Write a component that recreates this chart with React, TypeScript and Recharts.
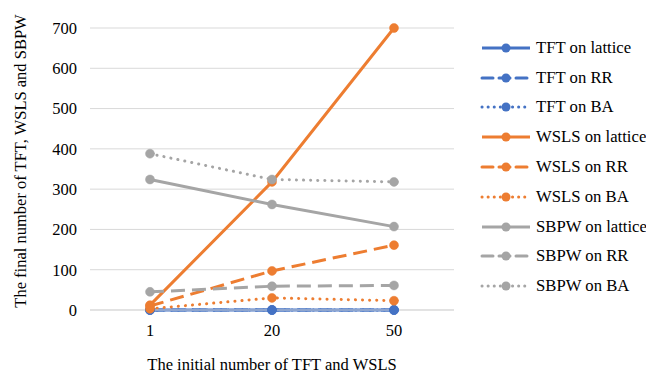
import React from "react";
import { LineChart, Line, XAxis, YAxis, CartesianGrid, Label } from "recharts";

const categories = ["1", "20", "50"];

const tftLattice = [0, 0, 0];
const tftRR = [0, 0, 0];
const tftBA = [0, 0, 0];
const wslsLattice = [12, 318, 700];
const wslsRR = [10, 97, 161];
const wslsBA = [3, 30, 23];
const sbpwLattice = [324, 262, 207];
const sbpwRR = [45, 59, 61];
const sbpwBA = [388, 324, 318];

const yTicks = [0, 100, 200, 300, 400, 500, 600, 700];

const BLUE = "#4472C4";
const ORANGE = "#ED7D31";
const GRAY = "#A5A5A5";
const FONT = "Liberation Serif";

type Style = "solid" | "dash" | "dot";

const seriesDefs: Array<{ key: string; name: string; color: string; style: Style; values: number[] }> = [
  { key: "tftLattice", name: "TFT on lattice", color: BLUE, style: "solid", values: tftLattice },
  { key: "tftRR", name: "TFT on RR", color: BLUE, style: "dash", values: tftRR },
  { key: "tftBA", name: "TFT on BA", color: BLUE, style: "dot", values: tftBA },
  { key: "wslsLattice", name: "WSLS on lattice", color: ORANGE, style: "solid", values: wslsLattice },
  { key: "wslsRR", name: "WSLS on RR", color: ORANGE, style: "dash", values: wslsRR },
  { key: "wslsBA", name: "WSLS on BA", color: ORANGE, style: "dot", values: wslsBA },
  { key: "sbpwLattice", name: "SBPW on lattice", color: GRAY, style: "solid", values: sbpwLattice },
  { key: "sbpwRR", name: "SBPW on RR", color: GRAY, style: "dash", values: sbpwRR },
  { key: "sbpwBA", name: "SBPW on BA", color: GRAY, style: "dot", values: sbpwBA },
];

const data = categories.map((c, i) => {
  const row: Record<string, string | number> = { x: c };
  seriesDefs.forEach((s) => {
    row[s.key] = s.values[i];
  });
  return row;
});

const dashFor = (style: Style) =>
  style === "dash" ? "14 7" : style === "dot" ? "0.1 7" : undefined;

const textStyle = { fill: "#000", fontSize: 16.5, fontFamily: FONT };

// legend sits to the right of the plot, one row per series
function LegendBox() {
  return (
    <div
      style={{
        position: "absolute",
        left: 480,
        top: 33,
        fontFamily: FONT,
        fontSize: 16.7,
        color: "#000",
      }}
    >
      {seriesDefs.map((s) => (
        <div key={s.key} style={{ display: "flex", alignItems: "center", height: 29.8 }}>
          <svg width={52} height={12} style={{ marginRight: 4 }}>
            <line
              x1={2}
              y1={6}
              x2={50}
              y2={6}
              stroke={s.color}
              strokeWidth={3}
              strokeDasharray={s.style === "dash" ? "11 6" : s.style === "dot" ? "0.1 6" : undefined}
              strokeLinecap={s.style === "solid" ? "butt" : "round"}
            />
            <circle cx={26} cy={6} r={4.5} fill={s.color} />
          </svg>
          <span style={{ whiteSpace: "nowrap", fontFamily: FONT }}>{s.name}</span>
        </div>
      ))}
    </div>
  );
}

export default function App() {
  return (
    <div
      style={{
        width: 646,
        height: 374,
        background: "#fff",
        position: "relative",
        overflow: "hidden",
        fontFamily: FONT,
      }}
    >
      <style>{`body{margin:0}`}</style>
      <LineChart
        width={646}
        height={374}
        data={data}
        margin={{ top: 28, right: 192, bottom: 0, left: 0 }}
        style={{ fontFamily: FONT }}
      >
        <CartesianGrid horizontal vertical={false} stroke="#D9D9D9" strokeWidth={1} />
        <XAxis
          dataKey="x"
          height={64}
          padding={{ left: 60, right: 60 }}
          axisLine={{ stroke: "#D9D9D9" }}
          tickLine={false}
          tickMargin={8}
          tick={textStyle}
        >
          <Label
            value="The initial number of TFT and WSLS"
            position="insideBottom"
            offset={4}
            style={textStyle}
          />
        </XAxis>
        <YAxis
          width={90}
          domain={[0, 700]}
          ticks={yTicks}
          axisLine={false}
          tickLine={false}
          tickMargin={7}
          tick={textStyle}
        >
          <Label
            content={() => (
              <text
                x={20}
                y={161}
                transform="rotate(-90, 20, 161)"
                textAnchor="middle"
                dominantBaseline="central"
                style={textStyle}
              >
                The final number of TFT, WSLS and SBPW
              </text>
            )}
          />
        </YAxis>
        {seriesDefs.map((s) => (
          <Line
            key={s.key}
            dataKey={s.key}
            name={s.name}
            type="linear"
            stroke={s.color}
            strokeWidth={3}
            strokeDasharray={dashFor(s.style)}
            strokeLinecap={s.style === "dot" ? "round" : "butt"}
            dot={{ r: 4.5, fill: s.color, stroke: s.color, strokeWidth: 0.5, strokeDasharray: "" }}
            activeDot={false}
            isAnimationActive={false}
          />
        ))}
      </LineChart>
      <LegendBox />
    </div>
  );
}
